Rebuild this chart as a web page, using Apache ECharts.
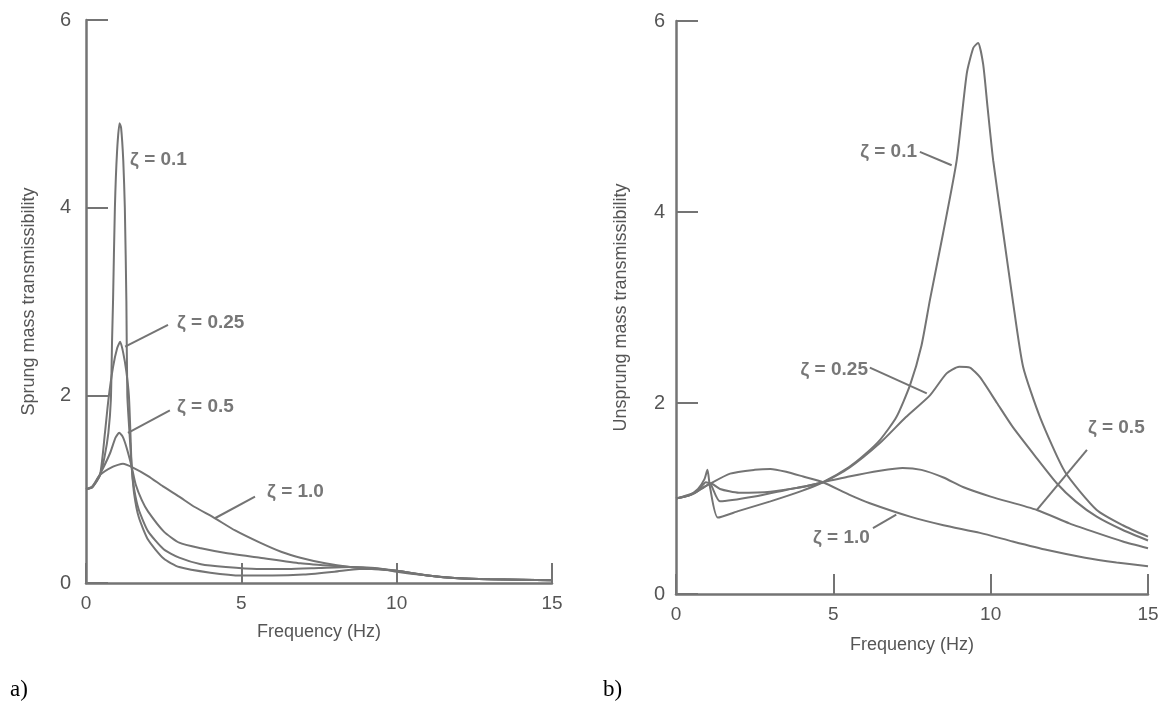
<!DOCTYPE html>
<html>
<head>
<meta charset="utf-8">
<script src="https://cdn.jsdelivr.net/npm/echarts@6/dist/echarts.min.js"></script>
<style>
  html, body { margin: 0; padding: 0; background: #fff; }
  #main { width: 1173px; height: 711px; }
</style>
</head>
<body>
<div id="main"></div>
<script>
// 频率刻度 (Hz) 和 纵轴刻度
var freqTicks = [0, 5, 10, 15];
var transTicks = [0, 2, 4, 6];

// a) 簧载质量传递率, 每条曲线 [频率, 传递率]
var sprung01 = [[0,1.0],[0.2,1.02],[0.45,1.15],[0.6,1.35],[0.72,1.6],[0.8,1.95],[0.84,2.6],[0.87,3.0],[0.93,4.0],[1.0,4.6],[1.08,4.9],[1.13,4.85],[1.2,4.5],[1.25,4.0],[1.3,3.0],[1.33,2.0],[1.4,1.6],[1.47,1.24],[1.55,0.95],[1.7,0.7],[2,0.46],[2.5,0.26],[3,0.17],[4,0.11],[5,0.08],[6,0.08],[7,0.09],[8,0.12],[8.8,0.15],[9.5,0.15],[10,0.12],[11,0.08],[12,0.05],[13,0.04],[15,0.03]];
var sprung025 = [[0,1.0],[0.2,1.02],[0.45,1.15],[0.61,1.6],[0.72,1.95],[0.87,2.3],[1.0,2.5],[1.1,2.57],[1.2,2.45],[1.3,2.25],[1.38,2.0],[1.43,1.6],[1.47,1.24],[1.55,1.0],[1.7,0.78],[2,0.55],[2.5,0.36],[3,0.27],[3.7,0.2],[4.5,0.17],[5.5,0.15],[6.5,0.15],[7.5,0.16],[8.5,0.17],[9.3,0.16],[10,0.13],[11,0.08],[12,0.05],[13,0.04],[15,0.03]];
var sprung05 = [[0,1.0],[0.2,1.02],[0.45,1.16],[0.77,1.38],[0.95,1.55],[1.07,1.6],[1.18,1.56],[1.3,1.45],[1.47,1.24],[1.6,1.05],[1.8,0.88],[2,0.76],[2.5,0.55],[3,0.43],[3.7,0.37],[4.5,0.32],[5.6,0.27],[6.9,0.21],[8,0.18],[9,0.16],[10,0.13],[11,0.08],[12,0.05],[13,0.04],[15,0.03]];
var sprung10 = [[0,1.0],[0.2,1.03],[0.45,1.15],[0.87,1.24],[1.19,1.27],[1.51,1.23],[2,1.14],[2.48,1.03],[3,0.92],[3.5,0.81],[4.1,0.7],[4.8,0.56],[5.6,0.43],[6.3,0.33],[6.9,0.27],[7.7,0.21],[8.5,0.17],[9.2,0.15],[10,0.13],[11,0.08],[12,0.05],[13,0.04],[15,0.03]];

// b) 非簧载质量传递率
var unsprung01 = [[0,1.0],[0.4,1.03],[0.7,1.1],[0.9,1.2],[1.0,1.3],[1.08,1.12],[1.33,0.8],[2,0.87],[3,0.97],[4,1.08],[4.67,1.17],[5.5,1.33],[6,1.46],[6.5,1.62],[7,1.85],[7.44,2.19],[7.8,2.6],[8.07,3.08],[8.49,3.78],[8.92,4.54],[9.24,5.45],[9.45,5.72],[9.6,5.77],[9.76,5.55],[9.9,5.1],[10.08,4.54],[10.4,3.78],[10.7,3.08],[11.03,2.38],[11.57,1.85],[12.36,1.28],[13.37,0.88],[14.2,0.72],[15,0.6]];
var unsprung025 = [[0,1.0],[0.4,1.03],[0.7,1.08],[0.95,1.17],[1.1,1.15],[1.4,0.97],[2.5,1.02],[3.5,1.09],[4.67,1.17],[5.5,1.32],[6.48,1.58],[7.3,1.85],[8.07,2.08],[8.6,2.31],[9.0,2.38],[9.34,2.37],[9.66,2.27],[10.2,2.0],[10.7,1.75],[11.4,1.45],[12.1,1.16],[12.7,0.97],[13.37,0.81],[14.2,0.67],[15,0.56]];
var unsprung05 = [[0,1.0],[0.5,1.04],[0.9,1.12],[1.1,1.16],[1.4,1.1],[2,1.06],[3,1.07],[4,1.12],[4.67,1.17],[5.5,1.23],[6.48,1.29],[7.2,1.32],[7.8,1.3],[8.5,1.22],[9.12,1.12],[10,1.02],[11.47,0.88],[12.5,0.74],[13.37,0.64],[14.2,0.55],[15,0.48]];
var unsprung10 = [[0,1.0],[0.5,1.05],[1,1.14],[1.72,1.26],[2.5,1.3],[3,1.31],[3.5,1.28],[4.04,1.23],[4.67,1.17],[5.5,1.04],[6.16,0.95],[7.44,0.81],[8.5,0.72],[9.66,0.64],[10.7,0.55],[11.8,0.46],[13,0.38],[14,0.33],[15,0.29]];

// 标注文字和引线 (数据坐标)
var sprungLabels = [
  { text: "ζ = 0.1", at: [1.42, 4.51], align: "left" },
  { text: "ζ = 0.25", at: [2.93, 2.77], align: "left" },
  { text: "ζ = 0.5", at: [2.93, 1.88], align: "left" },
  { text: "ζ = 1.0", at: [5.83, 0.97], align: "left" }
];
var sprungLeaders = [
  [[2.64, 2.75], [1.26, 2.52]],
  [[2.7, 1.84], [1.35, 1.6]],
  [[5.44, 0.92], [4.15, 0.69]]
];
var unsprungLabels = [
  { text: "ζ = 0.1", at: [7.66, 4.63], align: "right" },
  { text: "ζ = 0.25", at: [6.1, 2.35], align: "right" },
  { text: "ζ = 0.5", at: [13.09, 1.74], align: "left" },
  { text: "ζ = 1.0", at: [6.16, 0.59], align: "right" }
];
var unsprungLeaders = [
  [[7.75, 4.63], [8.76, 4.49]],
  [[6.16, 2.37], [7.97, 2.1]],
  [[13.06, 1.51], [11.47, 0.88]],
  [[6.26, 0.69], [7.0, 0.83]]
];

var lineColor = "#747474";
var textColor = "#555555";

function makeX(idx, gap) {
  return {
    gridIndex: idx, type: "value",
    min: freqTicks[0], max: freqTicks[freqTicks.length - 1], interval: 5,
    name: "Frequency (Hz)", nameLocation: "middle", nameGap: gap,
    nameTextStyle: { color: textColor, fontSize: 18, fontFamily: "Liberation Sans" },
    axisLine: { lineStyle: { color: lineColor, width: 2.5 } },
    axisTick: { inside: true, length: 20, lineStyle: { color: lineColor, width: 2 } },
    axisLabel: { color: textColor, fontSize: 19, margin: 11, fontFamily: "Liberation Sans" },
    splitLine: { show: false }
  };
}
function makeY(idx, name, gap, margin) {
  return {
    gridIndex: idx, type: "value",
    min: transTicks[0], max: transTicks[transTicks.length - 1], interval: 2,
    name: name, nameLocation: "middle", nameGap: gap,
    nameTextStyle: { color: textColor, fontSize: 18, fontFamily: "Liberation Sans" },
    axisLine: { show: true, lineStyle: { color: lineColor, width: 2.5 } },
    axisTick: { show: true, inside: true, length: 22, lineStyle: { color: lineColor, width: 2 } },
    axisLabel: { color: textColor, fontSize: 20, margin: margin, fontFamily: "Liberation Sans" },
    splitLine: { show: false }
  };
}
function curve(idx, data) {
  return {
    type: "line", xAxisIndex: idx, yAxisIndex: idx, data: data,
    showSymbol: false, smooth: 0.2, silent: true,
    lineStyle: { color: lineColor, width: 2 }
  };
}
function leader(idx, pts) {
  return {
    type: "line", xAxisIndex: idx, yAxisIndex: idx, data: pts,
    showSymbol: false, silent: true,
    lineStyle: { color: lineColor, width: 2 }
  };
}
function labels(idx, list) {
  return {
    type: "scatter", xAxisIndex: idx, yAxisIndex: idx, symbolSize: 0, silent: true,
    data: list.map(function (l) {
      return {
        value: l.at, name: l.text,
        label: { show: true, position: "inside", align: l.align, verticalAlign: "middle",
          formatter: "{b}", color: textColor, fontSize: 19, fontWeight: "bold",
          fontFamily: "Liberation Sans" }
      };
    })
  };
}

var chart = echarts.init(document.getElementById("main"));
var series = [
  curve(0, sprung01), curve(0, sprung025), curve(0, sprung05), curve(0, sprung10),
  curve(1, unsprung01), curve(1, unsprung025), curve(1, unsprung05), curve(1, unsprung10),
  labels(0, sprungLabels), labels(1, unsprungLabels)
];
sprungLeaders.forEach(function (p) { series.push(leader(0, p)); });
unsprungLeaders.forEach(function (p) { series.push(leader(1, p)); });

chart.setOption({
  animation: false,
  grid: [
    { left: 86, right: 621, top: 20, bottom: 128 },
    { left: 676, right: 25, top: 21, bottom: 117 }
  ],
  xAxis: [makeX(0, 40), makeX(1, 42)],
  yAxis: [
    makeY(0, "Sprung mass transmissibility", 48, 15),
    makeY(1, "Unsprung mass transmissibility", 46, 11)
  ],
  graphic: [
    { type: "text", left: 10, top: 678, style: { text: "a)", fontSize: 23, fontFamily: "Liberation Serif", fill: "#000" } },
    { type: "text", left: 603, top: 678, style: { text: "b)", fontSize: 23, fontFamily: "Liberation Serif", fill: "#000" } }
  ],
  series: series
});
</script>
</body>
</html>
